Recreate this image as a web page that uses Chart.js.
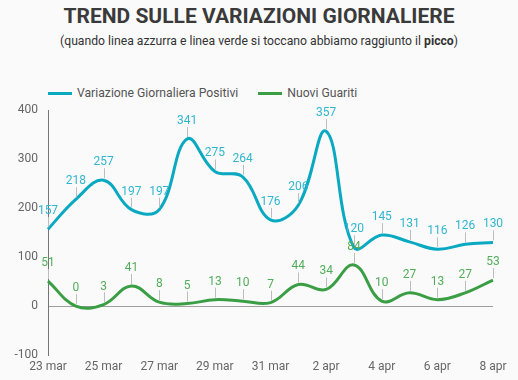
<!DOCTYPE html>
<html><head><meta charset="utf-8">
<script src="https://cdn.jsdelivr.net/npm/chart.js@4"></script>
<style>
html,body{margin:0;padding:0;background:#fafafa;font-family:Roboto,"Noto Sans",sans-serif;}
#wrap{position:relative;width:518px;height:380px;overflow:hidden;}
#title{position:absolute;left:0;top:4px;width:518px;text-align:center;font-size:21px;font-weight:bold;color:#3a3a3a;}
#sub{position:absolute;left:0;top:34px;width:518px;text-align:center;font-size:12.2px;color:#333;}
#legend{position:absolute;left:48px;top:86px;font-size:12.2px;color:#555;display:flex;align-items:center;}
.lg{display:flex;align-items:center;margin-right:20px;}
.sw{display:inline-block;width:24px;height:3px;margin-right:5px;}
#cv{position:absolute;left:0;top:93px;}
</style></head>
<body><div id="wrap">
<div id="title">TREND SULLE VARIAZIONI GIORNALIERE</div>
<div id="sub">(quando linea azzurra e linea verde si toccano abbiamo raggiunto il <b>picco</b>)</div>
<div id="legend">
<span class="lg"><span class="sw" style="background:#0aa9c2"></span>Variazione Giornaliera Positivi</span>
<span class="lg"><span class="sw" style="background:#3a9e45"></span>Nuovi Guariti</span>
</div>
<canvas id="cv" width="518" height="287"></canvas>
</div>
<script>
const categories = ["23 mar","24 mar","25 mar","26 mar","27 mar","28 mar","29 mar","30 mar","31 mar","1 apr","2 apr","3 apr","4 apr","5 apr","6 apr","7 apr","8 apr"];
const positivi = [157,218,257,197,197,341,275,264,176,206,357,120,145,131,116,126,130];
const guariti = [51,0,3,41,8,5,13,10,7,44,34,84,10,27,13,27,53];
const yTicks = [400,300,200,100,0,-100];

const labelPlugin = {
  id:'leaders',
  afterDatasetsDraw(chart){
    const ctx = chart.ctx;
    chart.data.datasets.forEach((ds,i)=>{
      const meta = chart.getDatasetMeta(i);
      meta.data.forEach((pt,j)=>{
        const x = pt.x, y = pt.y;
        ctx.save();
        ctx.strokeStyle = '#bdbdbd';
        ctx.lineWidth = 1;
        ctx.beginPath();
        ctx.moveTo(Math.round(x)+0.5, y-2);
        ctx.lineTo(Math.round(x)+0.5, y-12);
        ctx.stroke();
        ctx.fillStyle = ds.labelColor;
        ctx.font = '12px Roboto, sans-serif';
        ctx.textAlign = 'center';
        ctx.textBaseline = 'bottom';
        ctx.fillText(String(ds.data[j]), x, y-12);
        ctx.restore();
      });
    });
    // x-axis category labels (every other day)
    const xs = chart.scales.x;
    const ca = chart.chartArea;
    ctx.save();
    ctx.fillStyle = '#666';
    ctx.font = '12px Roboto, sans-serif';
    ctx.textAlign = 'center';
    ctx.textBaseline = 'middle';
    categories.forEach((c,i)=>{
      if (i%2===0) ctx.fillText(c, xs.getPixelForValue(i), ca.bottom + 12);
    });
    ctx.restore();
  }
};

new Chart(document.getElementById('cv'), {
  type:'line',
  data:{
    labels:categories,
    datasets:[
      {label:'Variazione Giornaliera Positivi', data:positivi, borderColor:'#0aa9c2', labelColor:'#30b6cf', borderWidth:3, pointRadius:0, tension:0.4, fill:false},
      {label:'Nuovi Guariti', data:guariti, borderColor:'#3a9e45', labelColor:'#53ad5a', borderWidth:3, pointRadius:0, tension:0.4, fill:false}
    ]
  },
  options:{
    responsive:false, animation:false,
    layout:{padding:{top:3,right:25,left:0,bottom:25}},
    plugins:{legend:{display:false}, tooltip:{enabled:false}},
    scales:{
      x:{
        grid:{display:false, drawTicks:false},
        border:{display:false},
        ticks:{display:false}
      },
      y:{
        min:-100, max:400,
        afterFit(s){ s.width = 48; },
        afterBuildTicks(s){ s.ticks = yTicks.map(v=>({value:v})); },
        grid:{drawTicks:false, color:(c)=> c.tick && c.tick.value===0 ? '#9e9e9e' : 'rgba(0,0,0,0)', lineWidth:1},
        border:{display:true, color:'#757575', width:1},
        ticks:{color:'#666', font:{size:12, family:'Roboto'}, padding:10}
      }
    }
  },
  plugins:[labelPlugin]
});
</script>
</body></html>
